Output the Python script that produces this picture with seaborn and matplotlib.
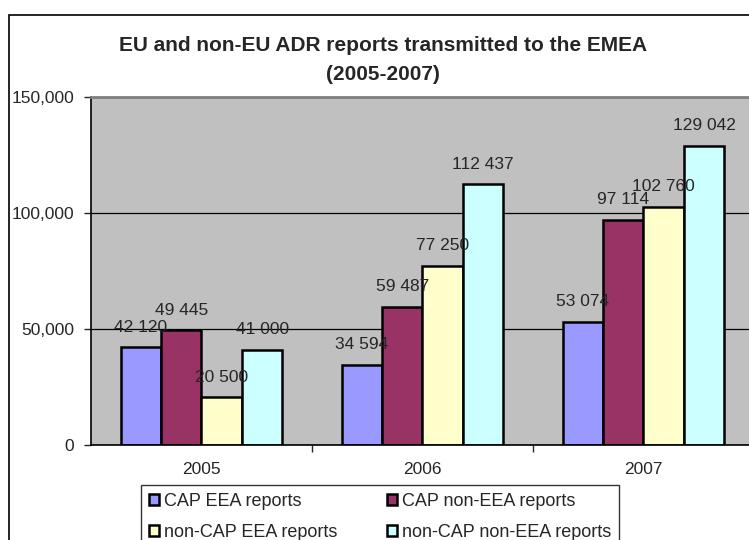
import numpy as np
import pandas as pd
import matplotlib
matplotlib.use("Agg")
import matplotlib.pyplot as plt
import seaborn as sns
from matplotlib.patches import Rectangle

years = ["2005", "2006", "2007"]
series = ["CAP EEA reports", "CAP non-EEA reports",
          "non-CAP EEA reports", "non-CAP non-EEA reports"]
cap_eea = [42120, 34594, 53074]
cap_non_eea = [49445, 59487, 97114]
noncap_eea = [20500, 77250, 102760]
noncap_non_eea = [41000, 112437, 129042]
colors = ["#9999FF", "#993366", "#FFFFCC", "#CCFFFF"]

df = pd.DataFrame({
    "year": years * 4,
    "series": np.repeat(series, 3),
    "value": cap_eea + cap_non_eea + noncap_eea + noncap_non_eea,
})

sns.set_style("white")
plt.rcParams["font.family"] = ["Liberation Sans", "DejaVu Sans"]

fig = plt.figure(figsize=(7.49, 5.4), dpi=100)
ax = fig.add_axes([91 / 749, 95 / 540, 663 / 749, 348 / 540])

sns.barplot(data=df, x="year", y="value", hue="series", order=years,
            hue_order=series, palette=colors, width=0.733, gap=0,
            edgecolor="black", linewidth=1.8, saturation=1, ax=ax)

ax.set_facecolor("#C0C0C0")
ax.set_xlim(-0.5, 2.5)
ax.set_ylim(0, 150000)
ax.set_yticks([0, 50000, 100000, 150000])
ax.set_yticklabels(["0", "50,000", "100,000", "150,000"], fontsize=12.5)
ax.yaxis.grid(True, color="black", linewidth=0.9)
ax.set_axisbelow(True)
ax.tick_params(axis="y", direction="out", length=5, width=1, left=True, pad=7)
ax.tick_params(axis="x", which="major", length=0, labelsize=12.5, pad=12)
ax.set_xticks([0.5, 1.5, 2.5], minor=True)
ax.tick_params(axis="x", which="minor", direction="out", length=5, width=1, bottom=True)
ax.set_xlabel("")
ax.set_ylabel("")

for side in ["left", "bottom"]:
    ax.spines[side].set_color("black")
    ax.spines[side].set_linewidth(1.2)
ax.spines["top"].set_color("#808080")
ax.spines["top"].set_linewidth(2)
ax.spines["right"].set_visible(False)

# data labels with a space as thousands separator
for cont in ax.containers:
    for bar in cont:
        h = bar.get_height()
        ax.annotate(f"{int(h):,}".replace(",", " "),
                    (bar.get_x() + bar.get_width() / 2, h),
                    xytext=(0, 9), textcoords="offset points",
                    ha="center", va="bottom", fontsize=12.5)

handles, labels = ax.get_legend_handles_labels()
ax.get_legend().remove()
order = [0, 2, 1, 3]
leg = fig.legend([handles[i] for i in order], [labels[i] for i in order],
                 ncol=2, loc="upper left",
                 bbox_to_anchor=(141 / 749, 1 - 485 / 540),
                 frameon=True, fancybox=False, fontsize=13,
                 handlelength=0.55, handleheight=0.55, handletextpad=0.3,
                 columnspacing=2.7, labelspacing=0.75, borderpad=0.45,
                 borderaxespad=0)
leg.get_frame().set_edgecolor("black")
leg.get_frame().set_linewidth(1)
for h in leg.legend_handles:
    h.set_edgecolor("black")
    h.set_linewidth(1.8)

fig.text(383 / 749, 1 - 51 / 540,
         "EU and non-EU ADR reports transmitted to the EMEA",
         ha="center", va="baseline", fontsize=15, fontweight="bold")
fig.text(383 / 749, 1 - 80 / 540, "(2005-2007)",
         ha="center", va="baseline", fontsize=15, fontweight="bold")

fig.patches.append(Rectangle((9 / 749, -0.1), 1.2, 1 - 15 / 540 + 0.1,
                             transform=fig.transFigure, fill=False,
                             edgecolor="black", linewidth=1.2))

fig.savefig("out.png", dpi=100)
